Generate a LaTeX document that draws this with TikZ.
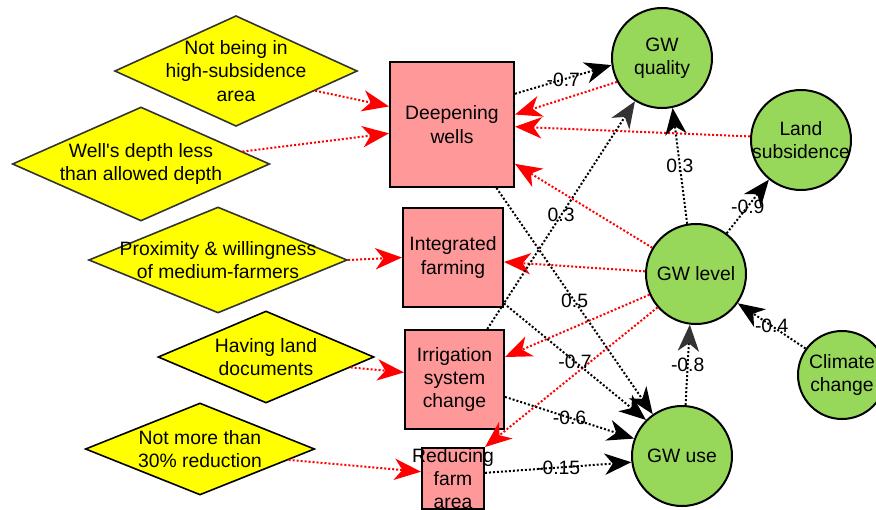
\documentclass[tikz,border=0pt]{standalone}
\usepackage{fontspec}
\setmainfont{Liberation Sans}
\usetikzlibrary{shapes.geometric,arrows.meta}
\definecolor{cyellow}{HTML}{FFFF00}
\definecolor{cpink}{HTML}{FF9999}
\definecolor{cgreen}{HTML}{97D85B}
\definecolor{cgray}{HTML}{333333}
\begin{document}
\begin{tikzpicture}[x=0.75pt, y=-0.75pt, font=\fontsize{14.5}{17.5}\selectfont]
				\tikzstyle{cond}=[diamond, fill=cyellow, draw=cgray, line width=1.2pt, inner sep=0pt]
				\tikzstyle{act}=[rectangle, fill=cpink, draw=black, line width=1.5pt, inner sep=0pt, align=center]
				\tikzstyle{var}=[circle, fill=cgreen, draw=black, line width=1.5pt, inner sep=0pt, minimum size=75pt]
				\tikzstyle{every label}=[align=center, inner sep=0pt]
				\tikzstyle{dots}=[line width=1.5pt, dash pattern=on 1.5pt off 1.5pt]
				\tikzstyle{blk}=[dots, -{Stealth[length=20pt,width=16pt,inset=6pt]}]
				\tikzstyle{gry}=[dots, -{Stealth[length=20pt,width=16pt,inset=6pt,color=cgray]}]
				\tikzstyle{rd}=[dots, draw=red, -{Stealth[length=20pt,width=16pt,inset=6pt]}]
				\tikzstyle{wt}=[midway, inner sep=0pt]
				\useasboundingbox (0,0) rectangle (876,510);
				\draw 
				node[cond, minimum width=182pt, minimum height=83pt, label=center:{Not being in\\high-subsidence\\area}](C1)at(236,71){}
				node[cond, minimum width=193pt, minimum height=85.5pt, label=center:{Well\textquotesingle s depth less\\than allowed depth}](C2)at(141,164){}
				node[cond, minimum width=194pt, minimum height=79.5pt, label=center:{Proximity \& willingness\\of medium-farmers}](C3)at(218,260){}
				node[cond, draw=black, minimum width=162pt, minimum height=69pt, label=center:{Having land\\documents}](C4)at(266,357){}
				node[cond, draw=black, minimum width=172pt, minimum height=69pt, label=center:{Not more than\\30\% reduction}](C5)at(200,449){}
				node[act, minimum width=93pt, minimum height=93.75pt](DW)at(452,124.5){Deepening\\wells}
				node[act, minimum width=75pt, minimum height=74.25pt](IF)at(453,257.5){Integrated\\farming}
				node[act, minimum width=74.25pt, minimum height=74.25pt](IS)at(454.5,379.5){Irrigation\\system\\change}
				node[act, minimum width=46.5pt, minimum height=45.75pt, label=center:{Reducing\\farm\\area}](RF)at(453,478.5){}
				node[var, label=center:{GW\\quality}](GQ)at(662,58){}
				node[var, label=center:{Land\\subsidence}](LS)at(801,140){}
				node[var, label=center:{GW level}](GL)at(696,274){}
				node[var, minimum size=66pt, label=center:{Climate\\change}](CC)at(842,375){}
				node[var, label=center:{GW use}](GU)at(682,456){};
				
				\draw[rd](C1.-14)--(DW.164);
				\draw[rd](C2.7)--(DW.188);
				\draw[rd](C3.east)--(IF.west);
				\draw[rd](C4.-7)--(IS.172);
				\draw[rd](C5.-7)--(RF.168);
				\draw[rd](GQ.208)--(DW.9);
				\draw[rd](LS.176)--(DW.358);
				\draw[rd](GL.149)--(DW.328);
				\draw[rd](GL.177)--(IF.355);
				\draw[rd](GL.204)--(IS.24);
				\draw[rd](GL.221)--(RF.north east);
				
				\draw[blk](DW.26)--(GQ.188) node[wt]{-0.7};
				\draw[gry](IS.57)--(GQ.238) node[wt]{0.3};
				\draw[blk](GL.100)--(GQ.282) node[wt]{0.3};
				\draw[blk](GL.53)--(LS.231) node[wt]{-0.9};
				\draw[blk](CC.144)--(GL.325) node[wt]{-0.4};
				\draw[gry](GU.86)--(GL.263) node[wt]{-0.8};
				\draw[blk](DW.305)--(GU.125) node[wt]{0.5};
				\draw[blk](IF.318)--(GU.135) node[wt]{-0.7};
				\draw[blk](IS.341)--(GU.160) node[wt]{-0.6};
				\draw[blk](RF.10)--(GU.187) node[wt]{-0.15};
\end{tikzpicture}
\end{document}
